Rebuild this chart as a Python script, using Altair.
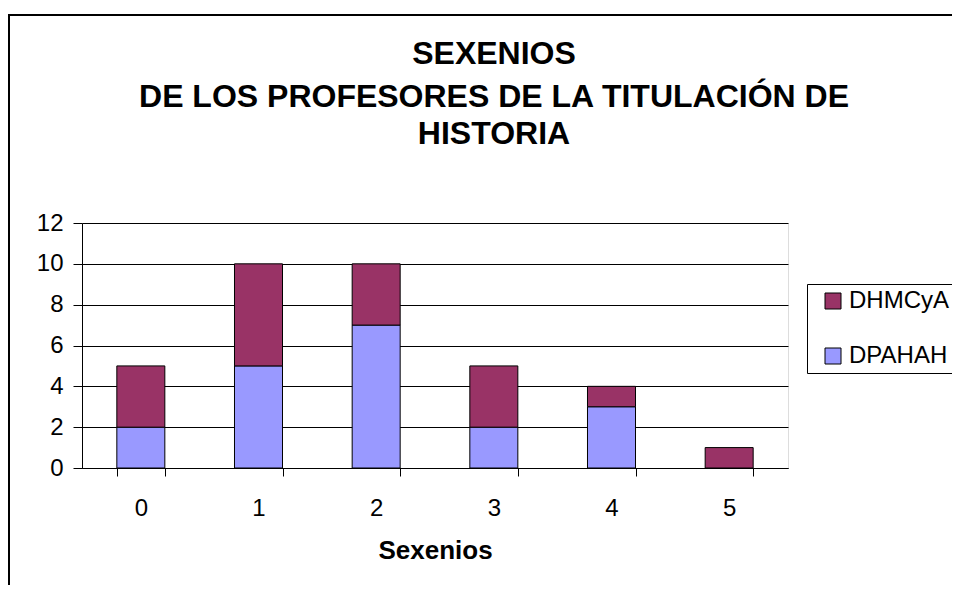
import altair as alt
import pandas as pd

categories = ["0", "1", "2", "3", "4", "5"]
series_names = ["DHMCyA", "DPAHAH"]
dhmcya = [3, 5, 3, 3, 1, 1]
dpahah = [2, 5, 7, 2, 3, 0]
y_ticks = [0, 2, 4, 6, 8, 10, 12]
colors = ["#993366", "#9999FF"]
title_lines = ["SEXENIOS", "DE LOS PROFESORES DE LA TITULACIÓN DE", "HISTORIA"]

rows = []
for c, v in zip(categories, dpahah):
    if v > 0:
        rows.append({"cat": c, "serie": "DPAHAH", "val": v, "ord": 0})
for c, v in zip(categories, dhmcya):
    if v > 0:
        rows.append({"cat": c, "serie": "DHMCyA", "val": v, "ord": 1})
df = pd.DataFrame(rows)

FONT = "Liberation Sans"

bars = alt.Chart(df).mark_bar(stroke="black", strokeWidth=1).encode(
    x=alt.X("cat:N", sort=categories,
            scale=alt.Scale(domain=categories, paddingInner=0.592, paddingOuter=0.296),
            axis=alt.Axis(title="Sexenios", labelAngle=0, tickBand="extent",
                          domainColor="black", tickColor="black", tickSize=8,
                          labelPadding=20, labelFontSize=24, labelFont=FONT,
                          labelColor="black", titleFont=FONT, titleFontSize=26,
                          titleFontWeight="bold", titleColor="black", titlePadding=17)),
    y=alt.Y("val:Q", stack="zero",
            scale=alt.Scale(domain=[0, 12], nice=False),
            axis=alt.Axis(title=None, values=y_ticks, grid=True, gridColor="black",
                          gridOpacity=1, domainColor="black", tickColor="black",
                          tickSize=9, labelPadding=10, labelFontSize=24,
                          labelFont=FONT, labelColor="black")),
    color=alt.Color("serie:N",
                    scale=alt.Scale(domain=series_names, range=colors),
                    legend=alt.Legend(title=None, orient="none", legendX=725, legendY=61,
                                      symbolType="square", symbolSize=256,
                                      symbolStrokeColor="black", symbolStrokeWidth=1,
                                      symbolOpacity=1, labelFontSize=24, labelFont=FONT,
                                      labelColor="black", rowPadding=31, padding=5,
                                      symbolOffset=9,
                                      strokeColor="black", fillColor="white",
                                      labelOffset=4)),
    order=alt.Order("ord:Q"),
)

border = alt.Chart(pd.DataFrame({"a": [0]})).mark_rect(
    fill=None, stroke="black", strokeWidth=2
).encode(
    x=alt.value(-73), x2=alt.value(1000), y=alt.value(-208), y2=alt.value(600)
)

title_layers = []
for line, yy in zip(title_lines, [-159, -116, -79]):
    title_layers.append(
        alt.Chart(pd.DataFrame({"t": [line]})).mark_text(
            font=FONT, fontSize=32, fontWeight="bold", color="black",
            align="center", baseline="alphabetic"
        ).encode(text="t:N", x=alt.value(412), y=alt.value(yy))
    )

chart = alt.layer(border, bars, *title_layers).properties(
    width=706, height=245,
    autosize=alt.AutoSizeParams(type="none"),
    padding={"left": 74, "top": 215, "right": 164, "bottom": 117},
).configure_view(
    fill="#C0C0C0", stroke="#808080", strokeWidth=1
).configure(background="white")

chart.save("out.html", embed_options={"renderer": "svg", "actions": False})
